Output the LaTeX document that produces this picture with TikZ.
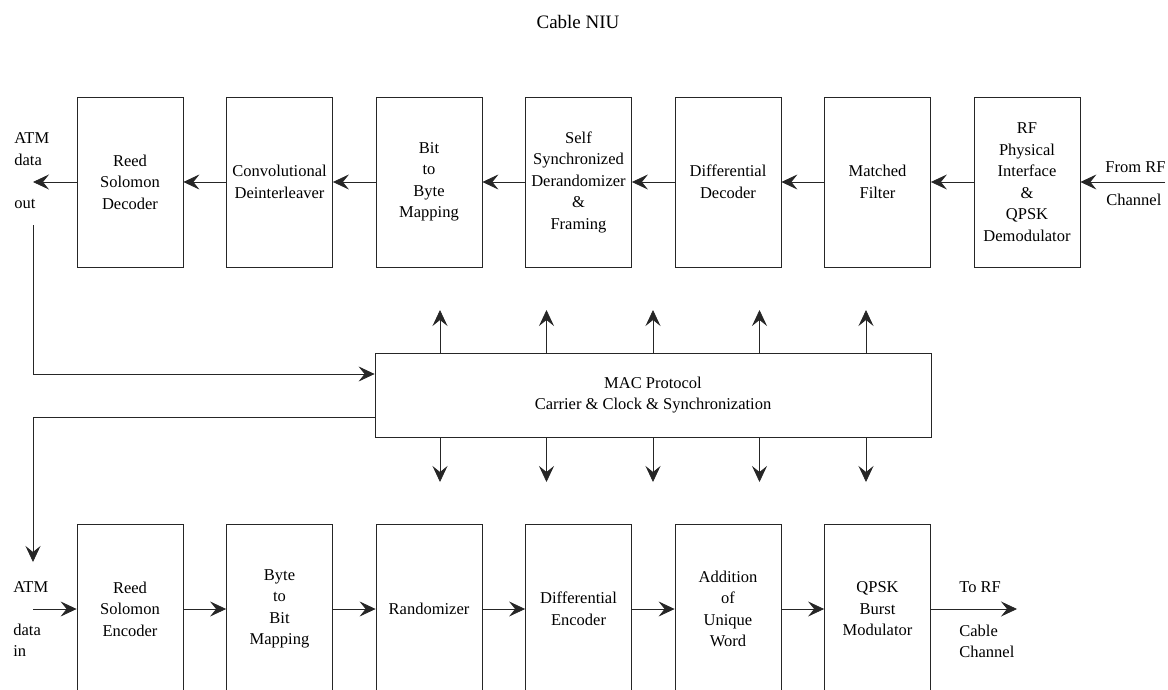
\documentclass[tikz,border=0pt]{standalone}
\usepackage{fontspec}
\setmainfont{Liberation Serif}
\usetikzlibrary{arrows.meta,positioning}
\def\txt{\fontsize{16.5}{21.5}\selectfont}

\begin{document}
\begin{tikzpicture}[>={Stealth[width=15pt,length=16pt,inset=6pt]}, line width=0.8pt, draw=black!85, block/.style={draw, minimum width=106pt, minimum height=170pt, align=center, inner sep=1pt, font=\txt}, lbl/.style={anchor=base west, inner sep=0pt, font=\txt}]
	\useasboundingbox (0pt, 0pt) rectangle (1168pt, -690pt);
	\draw (578.0pt, -29.0pt)node[anchor=base, font=\fontsize{19}{22}\selectfont](title){Cable NIU};
	% receive chain
	\draw (130.0pt, -182.0pt)node[block](rsd){Reed\\Solomon\\Decoder};
	\draw (279.5pt, -182.0pt)node[block](cdi){Convolutional\\Deinterleaver};
	\draw (429.0pt, -182.0pt)node[block](bbm){Bit\\to\\Byte\\Mapping};
	\draw (578.5pt, -182.0pt)node[block](ssd){Self\\Synchronized\\Derandomizer\\\&\\Framing};
	\draw (728.0pt, -182.0pt)node[block](dd){Differential\\Decoder};
	\draw (877.5pt, -182.0pt)node[block](mf){Matched\\Filter};
	\draw (1027.0pt, -182.0pt)node[block](rfi){RF\\Physical\\Interface\\\&\\QPSK\\Demodulator};
	% transmit chain
	\draw (130.0pt, -609.0pt)node[block](rse){Reed\\Solomon\\Encoder};
	\draw (279.5pt, -609.0pt)node[block](btb){Byte\\to\\Bit\\Mapping};
	\draw (429.0pt, -609.0pt)node[block](rnd){Randomizer};
	\draw (578.5pt, -609.0pt)node[block](de){Differential\\Encoder};
	\draw (728.0pt, -609.0pt)node[block](auw){Addition\\of\\Unique\\Word};
	\draw (877.5pt, -609.0pt)node[block](qbm){QPSK\\Burst\\Modulator};
	% MAC
	\draw (653.0pt, -395.0pt)node[draw, minimum width=556pt, minimum height=84pt, align=center, font=\txt](mac){MAC Protocol\\Carrier \& Clock \& Synchronization};
	% end points
	\coordinate (fromrf) at (1165pt, -182pt);
	\coordinate (atmout) at (33pt, -182pt);
	\coordinate (atmin) at (33pt, -609pt);
	\coordinate (torf) at (1017pt, -609pt);
	\coordinate (fbout) at (33pt, -225pt);
	\coordinate (fbin) at (33pt, -562pt);
	% outside texts
	\node[lbl](outa) at (14pt, -144pt){ATM};
	\node[lbl](outb) at (14pt, -166pt){data};
	\node[lbl](outc) at (14pt, -208pt){out};
	\node[lbl](ina) at (13pt, -592pt){ATM};
	\node[lbl](inb) at (13pt, -635pt){data};
	\node[lbl](inc) at (13pt, -656pt){in};
	\node[lbl](froma) at (1105pt, -173pt){From RF};
	\node[lbl](fromb) at (1106pt, -205pt){Channel};
	\node[lbl](toa) at (959pt, -592pt){To RF};
	\node[lbl](tob) at (959pt, -636pt){Cable};
	\node[lbl](toc) at (959pt, -657pt){Channel};
	% data flow
	\path[->] (fromrf) edge (rfi);
	\path[->] (rfi) edge (mf);
	\path[->] (mf) edge (dd);
	\path[->] (dd) edge (ssd);
	\path[->] (ssd) edge (bbm);
	\path[->] (bbm) edge (cdi);
	\path[->] (cdi) edge (rsd);
	\path[->] (rsd.west) edge (atmout);
	\path[->] (atmin) edge (rse.west);
	\path[->] (rse) edge (btb);
	\path[->] (btb) edge (rnd);
	\path[->] (rnd) edge (de);
	\path[->] (de) edge (auw);
	\path[->] (auw) edge (qbm);
	\path[->] (qbm.east) edge (torf);
	\draw[->] (fbout) |- ([yshift=21pt]mac.west);
	\draw[->] ([yshift=-22pt]mac.west) -| (fbin);
	% control lines
	\foreach \x [count=\i] in {440,546.5,653,759.5,866}{
		\coordinate (up\i) at (\x pt, -310pt);
		\coordinate (dn\i) at (\x pt, -482pt);
		\path[->] (up\i |- mac.north) edge (up\i);
		\path[->] (dn\i |- mac.south) edge (dn\i);
	}
\end{tikzpicture}
\end{document}
